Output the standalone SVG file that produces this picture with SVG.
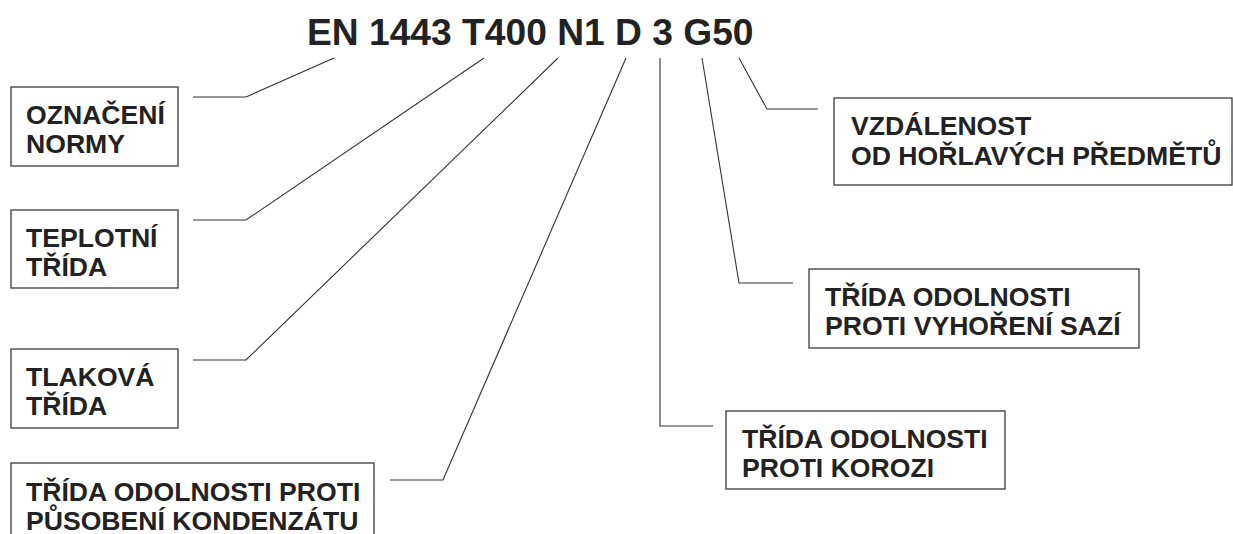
<svg xmlns="http://www.w3.org/2000/svg" width="1233" height="534" viewBox="0 0 1233 534">
<style>
.box{fill:#fff;stroke:#3a3a3a;stroke-width:1.3}
.lbl{font-family:"Liberation Sans",Arial,sans-serif;font-weight:bold;font-size:26.6px;fill:#222}
.title{font-family:"Liberation Sans",Arial,sans-serif;font-weight:bold;font-size:37.2px;fill:#222}
.con{fill:none;stroke:#333;stroke-width:1.1}
</style>
<rect width="1233" height="534" fill="#fff"/>
<text id="title" class="title" x="307" y="45">EN 1443 T400 N1 D 3 G50</text>
<g id="connectors">
<polyline class="con" points="193,97 246,97 334,58"/>
<polyline class="con" points="193,220 246,220 484,58"/>
<polyline class="con" points="193,360 246,360 558,58"/>
<polyline class="con" points="390,480 443,480 626,58"/>
<polyline class="con" points="660,58 660,426 713,426"/>
<polyline class="con" points="702,58 739,283 793,283"/>
<polyline class="con" points="739,58 767,109 818,109"/>
</g>
<g id="n-oznaceni">
<rect class="box" x="11" y="87" width="167" height="79"/>
<text class="lbl" x="26" y="124">OZNAČENÍ</text>
<text class="lbl" x="26" y="153">NORMY</text>
</g>
<g id="n-teplotni">
<rect class="box" x="11" y="210" width="167" height="78"/>
<text class="lbl" x="26" y="247">TEPLOTNÍ</text>
<text class="lbl" x="26" y="276">TŘÍDA</text>
</g>
<g id="n-tlakova">
<rect class="box" x="11" y="349" width="167" height="79"/>
<text class="lbl" x="26" y="386">TLAKOVÁ</text>
<text class="lbl" x="26" y="415">TŘÍDA</text>
</g>
<g id="n-kondenzat">
<rect class="box" x="11" y="463" width="363" height="90"/>
<text class="lbl" x="26" y="501">TŘÍDA ODOLNOSTI PROTI</text>
<text class="lbl" x="26" y="530">PŮSOBENÍ KONDENZÁTU</text>
</g>
<g id="n-korozi">
<rect class="box" x="726" y="411" width="279" height="78"/>
<text class="lbl" x="742" y="448">TŘÍDA ODOLNOSTI</text>
<text class="lbl" x="742" y="477">PROTI KOROZI</text>
</g>
<g id="n-sazi">
<rect class="box" x="809" y="269" width="330" height="79"/>
<text class="lbl" x="825" y="306">TŘÍDA ODOLNOSTI</text>
<text class="lbl" x="825" y="335">PROTI VYHOŘENÍ SAZÍ</text>
</g>
<g id="n-vzdalenost">
<rect class="box" x="834" y="98" width="398" height="87"/>
<text class="lbl" x="851" y="135">VZDÁLENOST</text>
<text class="lbl" x="851" y="165">OD HOŘLAVÝCH PŘEDMĚTŮ</text>
</g>
</svg>
